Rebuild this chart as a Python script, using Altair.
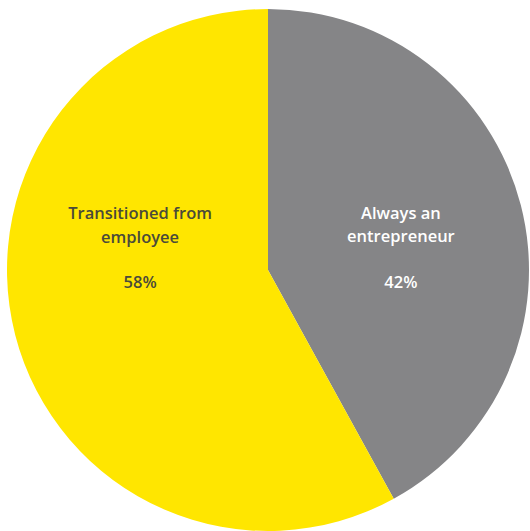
import altair as alt
import pandas as pd

categories = ["Always an entrepreneur", "Transitioned from employee"]
shares = [42, 58]
label_texts = ["Always an\nentrepreneur", "Transitioned from\nemployee"]
pct_texts = ["42%", "58%"]
colors = ["#858587", "#FFE600"]
text_colors = ["#FFFFFF", "#4A4A3A"]

df = pd.DataFrame({
    "category": categories,
    "share": shares,
    "label": label_texts,
    "pct": pct_texts,
    "order": [0, 1],
})

CX, CY, R = 268, 270, 261

pie = alt.Chart(df).mark_arc(radius=R, x=CX, y=CY).encode(
    theta=alt.Theta("share:Q", stack=True),
    order=alt.Order("order:Q"),
    color=alt.Color("category:N", scale=alt.Scale(domain=categories, range=colors), legend=None),
)

def text_layer(i, field, dx, dy):
    return alt.Chart(df).transform_stack(
        stack="share", groupby=[], as_=["s0", "s1"], sort=[alt.SortField("order")]
    ).transform_calculate(
        mid="(datum.s0 + datum.s1) / 2"
    ).transform_filter(
        alt.datum.order == i
    ).mark_text(
        radius=130, x=CX, y=CY, dx=dx, dy=dy,
        font="Open Sans", fontSize=16.5, fontWeight=600, lineHeight=23.5, lineBreak="\n",
        align="center", baseline="alphabetic", color=text_colors[i],
    ).encode(
        theta=alt.Theta("mid:Q", stack=None, scale=alt.Scale(domain=[0, 100])),
        text=f"{field}:N",
    )

chart = alt.layer(
    pie,
    text_layer(0, "label", 7, -19),
    text_layer(0, "pct", 7, 50),
    text_layer(1, "label", -2, -83),
    text_layer(1, "pct", -2, -14),
).resolve_scale(theta="independent").properties(
    width=530, height=531, padding=0,
    autosize=alt.AutoSizeParams(type="none"),
    background="white",
).configure_view(strokeWidth=0)

chart.save("out.html", embed_options={"renderer": "svg", "actions": False})
